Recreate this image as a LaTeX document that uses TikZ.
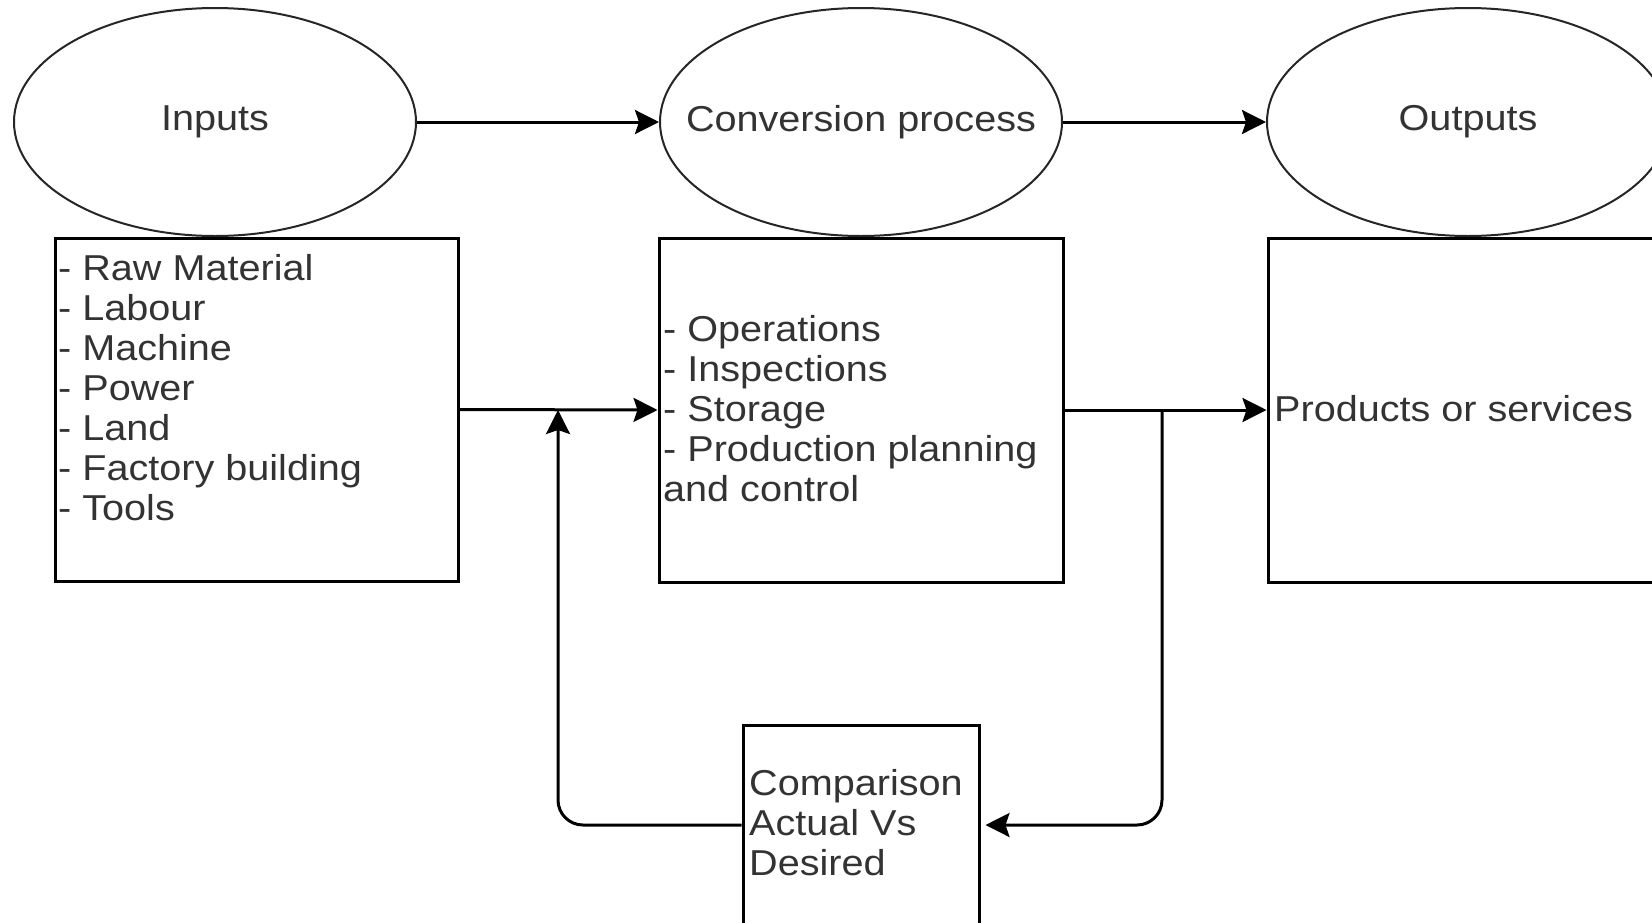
\documentclass[tikz,border=0pt]{standalone}
\usepackage{fontspec}
\setmainfont{Liberation Sans}[FakeStretch=1.1]
\usetikzlibrary{shapes.geometric,arrows.meta}
\begin{document}
\begin{tikzpicture}[x=1pt,y=-1pt,
  oval/.style={draw=black!85, line width=2pt, ellipse, minimum width=402pt, minimum height=228pt, inner sep=0pt},
  box/.style={draw=black, line width=3pt, rectangle, inner sep=0pt},
  txt/.style={font=\fontsize{36}{40}\selectfont, text=black!80, inner sep=0pt, align=left},
  conn/.style={draw=black, line width=3pt, -{Stealth[length=24pt,width=24pt,inset=4pt]}},
]
\useasboundingbox (0,0) rectangle (1652,922);
\clip (0,0) rectangle (1652,922);
\fill[white] (0,0) rectangle (1652,922);

% ellipses
\node[oval] (inE) at (215,122) {};
\node[oval] (cvE) at (861,122) {};
\node[oval] (outE) at (1468,122) {};
\node[txt] (inT) at (inE) {Inputs};
\node[txt] (cvT) at (cvE) {Conversion process};
\node[txt] (outT) at (outE) {Outputs};

% boxes
\node[box, minimum width=403pt, minimum height=343pt] (inB) at (256.5,409.5) {};
\node[box, minimum width=404pt, minimum height=344pt] (cvB) at (861,410) {};
\node[box, minimum width=432pt, minimum height=344pt] (outB) at (1484,410) {};
\node[box, minimum width=236pt, minimum height=200pt] (cmp) at (861,825) {};

% box texts
\node[txt, anchor=north west] (inL) at (58,252) {\strut- Raw Material\\\strut- Labour\\\strut- Machine\\\strut- Power\\\strut- Land\\\strut- Factory building\\\strut- Tools};
\node[txt, anchor=north west] (cvL) at (663,313) {\strut- Operations\\\strut- Inspections\\\strut- Storage\\\strut- Production planning\\\strut and control};
\node[txt, anchor=north west] (outL) at (1274,393.5) {\strut Products or services};
\node[txt, anchor=north west] (cmpL) at (749,767) {\strut Comparison\\\strut Actual Vs\\\strut Desired};

% connectors
\coordinate (br) at (1162,410);
\coordinate (fb) at (558,410);
\draw[conn] (inE.east) -- (cvE.west);
\draw[conn] (cvE.east) -- (outE.west);
\draw[conn] (inB.east) -- (cvB.west);
\draw[conn] (cvB.east) -- (outB.west);
\draw[conn, rounded corners=25pt, shorten >=5pt] (br) |- (cmp.east);
\draw[conn, rounded corners=25pt] (cmp.west) -| (fb);
\end{tikzpicture}
\end{document}
